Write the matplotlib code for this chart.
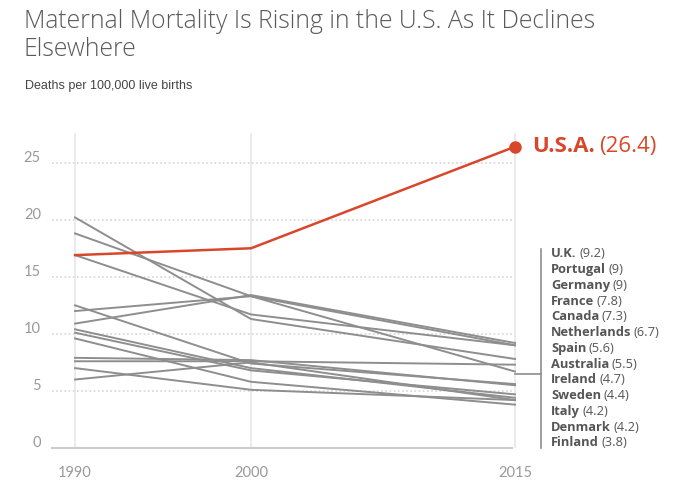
import matplotlib
matplotlib.use('Agg')
import matplotlib.pyplot as plt
from matplotlib.transforms import offset_copy

plt.rcParams['font.family'] = ['Lato', 'DejaVu Sans']

# data
years = [1990, 2000, 2015]
usa = [16.9, 17.5, 26.4]
countries = ['U.K.', 'Portugal', 'Germany', 'France', 'Canada', 'Netherlands',
             'Spain', 'Australia', 'Ireland', 'Sweden', 'Italy', 'Denmark', 'Finland']
v1990 = [10.9, 12.0, 16.9, 20.2, 7.6, 18.8, 12.5, 7.9, 10.1, 10.4, 7.0, 6.0, 9.6]
v2000 = [13.4, 13.3, 11.7, 11.3, 7.6, 13.3, 7.4, 7.7, 6.8, 7.0, 5.1, 7.5, 5.8]
v2015 = [9.2, 9.0, 9.0, 7.8, 7.3, 6.7, 5.6, 5.5, 4.7, 4.4, 4.2, 4.2, 3.8]
v2015_txt = ['9.2', '9', '9', '7.8', '7.3', '6.7', '5.6', '5.5', '4.7', '4.4', '4.2', '4.2', '3.8']
yticks = [0, 5, 10, 15, 20, 25]

red = '#d9472b'
gray = '#8e8e8e'
txt = '#555555'
lab_font = ['Open Sans', 'DejaVu Sans']

fig = plt.figure(figsize=(6.8, 5), dpi=100)
ax = fig.add_axes([52/680, 52/500, 460/680, 315/500])
ax.set_xlim(1988.69, 2014.83)
ax.set_ylim(0, 27.6)

for s in ['top', 'right', 'left']:
    ax.spines[s].set_visible(False)
ax.spines['bottom'].set_color('#cccccc')
ax.spines['bottom'].set_linewidth(1.5)
ax.set_xticks([])
ax.set_yticks([])

# grid
for y in yticks[1:]:
    ax.axhline(y, color='#d5d5d5', lw=1.2, ls=(0, (1, 1.5)), zorder=0)
for yr in years:
    ax.vlines(yr, 0, 27.6, color='#e6e6e6', lw=1.2, zorder=0, clip_on=False)

for y in yticks:
    ax.text(1988.06, y + 0.4, str(y), ha='right', va='center', fontsize=10.5, color='#999999')
for yr in years:
    ax.text(yr, -2.2, str(yr), ha='center', va='center', fontsize=10.5, color='#999999')

# country lines
for a, b, c in zip(v1990, v2000, v2015):
    ax.plot(years, [a, b, c], color=gray, lw=1.4, clip_on=False, zorder=2)
ax.plot(years, usa, color=red, lw=1.8, clip_on=False, zorder=3)
ax.plot(years[-1], usa[-1], 'o', color=red, ms=8, clip_on=False, zorder=4)

# bracket
ax.plot([2015, 2016.48], [6.5, 6.5], color=gray, lw=1.2, clip_on=False)
ax.plot([2016.48, 2016.48], [0, 17.4], color=gray, lw=1.2, clip_on=False)

fig.canvas.draw()
r = fig.canvas.get_renderer()

def two_part(x, y, bold, rest, size, color, dx=3):
    t = ax.text(x, y, bold, fontsize=size, fontweight='bold', color=color, family=lab_font,
                ha='left', va='center', transform=ax.transData)
    w = t.get_window_extent(renderer=r).width
    tr = offset_copy(ax.transData, fig=fig, x=(w + dx) * 72 / fig.dpi, y=0, units='points')
    ax.text(x, y, rest, fontsize=size, color=color, family=lab_font,
            ha='left', va='center', transform=tr)

two_part(2016.0, 26.4, 'U.S.A.', '(26.4)', 16, red, dx=4)

top_y = (448 - 254) / 11.4
step = 15.75 / 11.4
for i, (n, v) in enumerate(zip(countries, v2015_txt)):
    two_part(2017.05, top_y - i * step, n, '(' + v + ')', 9.3, txt, dx=2.5)

t1 = fig.text(24/680, 1 - 22/500, 'Maternal Mortality Is Rising in the U.S. As It Declines',
              fontsize=15, family=lab_font, fontweight='light', color='#5a5a5a',
              ha='left', va='center')
# fit title width to the reference
w1 = t1.get_window_extent(renderer=r).width
fs = 15 * 575 / w1
t1.set_fontsize(fs)
fig.text(24/680, 1 - 50/500, 'Elsewhere', fontsize=fs, family=lab_font, fontweight='light',
         color='#5a5a5a', ha='left', va='center')
fig.text(25/680, 1 - 86/500, 'Deaths per 100,000 live births', fontsize=9,
         family=['Liberation Sans', 'DejaVu Sans'], color='#444444', ha='left', va='center')

fig.savefig('out.png', dpi=100)
